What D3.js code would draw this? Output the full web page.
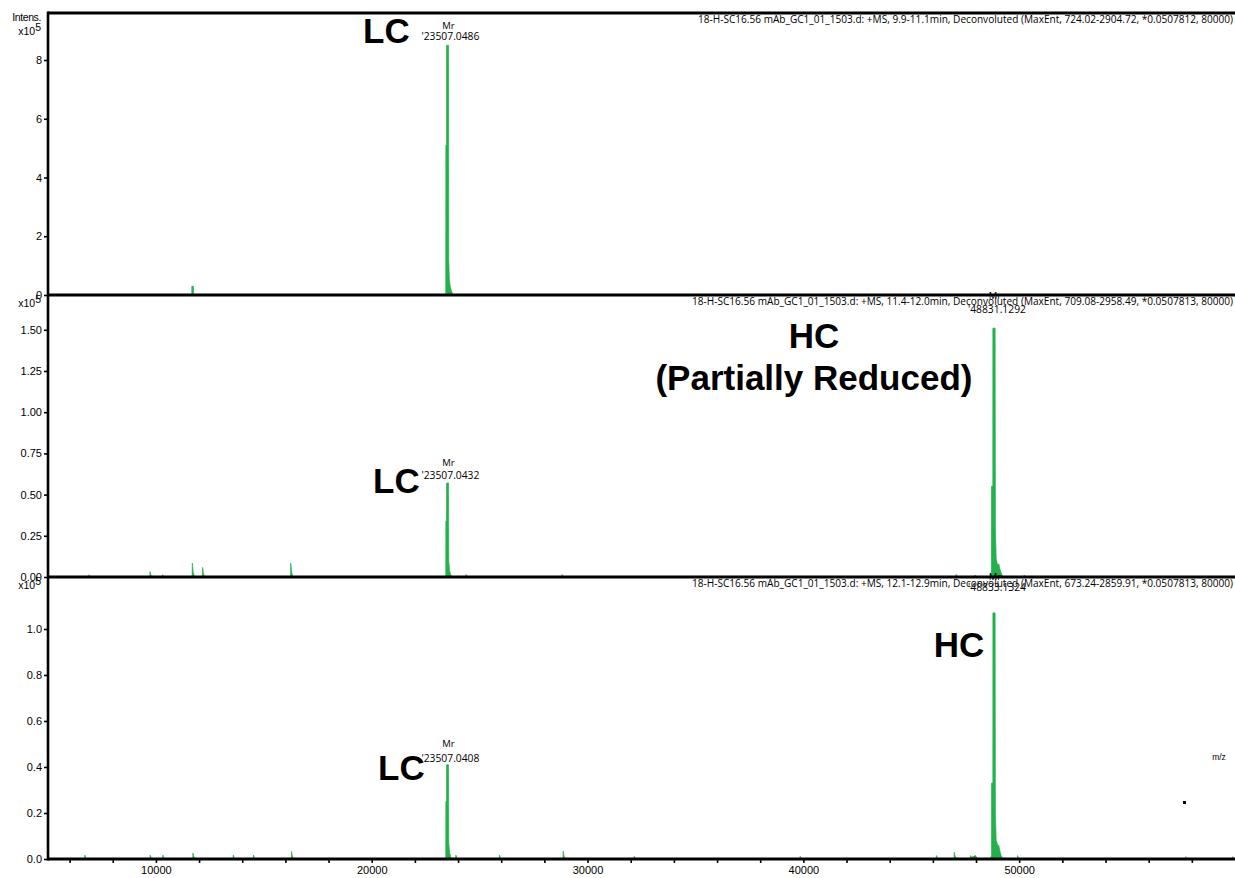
<!DOCTYPE html>
<html>
<head>
<meta charset="utf-8">
<script src="https://cdn.jsdelivr.net/npm/d3@7"></script>
<style>
  html, body { margin: 0; padding: 0; background: #fff; }
  svg { display: block; }
</style>
</head>
<body>
<svg id="chart" width="1235" height="878"></svg>
<script>
// ---- deconvoluted mass spectra, three retention windows ----
const massDomain = [5000, 60000];
const massTicks = [10000, 20000, 30000, 40000, 50000];
const massMinorTicks = d3.range(6000, 60000, 2000);

const headers = [
  "18-H-SC16.56 mAb_GC1_01_1503.d: +MS, 9.9-11.1min, Deconvoluted (MaxEnt, 724.02-2904.72, *0.0507812, 80000)",
  "18-H-SC16.56 mAb_GC1_01_1503.d: +MS, 11.4-12.0min, Deconvoluted (MaxEnt, 709.08-2958.49, *0.0507813, 80000)",
  "18-H-SC16.56 mAb_GC1_01_1503.d: +MS, 12.1-12.9min, Deconvoluted (MaxEnt, 673.24-2859.91, *0.0507813, 80000)"
];

// intensity axes (x10^5)
const yMax = [9.6, 1.711, 1.226];
const yTicks1 = [0, 2, 4, 6, 8];
const yTicks2 = [0, 0.25, 0.5, 0.75, 1.0, 1.25, 1.5];
const yTicks3 = [0, 0.2, 0.4, 0.6, 0.8, 1.0];
const yMinor1 = [1, 3, 5, 7, 9];
const yMinor2 = d3.range(0.05, 1.7, 0.05);
const yMinor3 = [0.1, 0.3, 0.5, 0.7, 0.9, 1.1];
const yFormats = [d3.format("d"), d3.format(".2f"), d3.format(".1f")];

// spectrum profiles: [mass (Da), intensity (x10^5)]
const spectrum1 = [
  [11600, 0], [11660, 0], [11664, 0.3], [11738, 0.3], [11742, 0],
  [23400, 0], [23432, 0], [23434, 5.1], [23466, 5.1], [23468, 8.5], [23560, 8.5],
  [23570, 1.2], [23595, 0.55], [23635, 0.3], [23685, 0.15], [23745, 0.05], [23830, 0]
];

const spectrum2 = [
  [6890, 0], [6900, 0.014], [6940, 0.006], [6990, 0],
  [9717, 0], [9727, 0.033], [9767, 0.012], [9817, 0],
  [10296, 0], [10306, 0.014], [10346, 0.006], [10396, 0],
  [11677, 0], [11687, 0.084], [11727, 0.03], [11790, 0],
  [12154, 0], [12164, 0.058], [12204, 0.02], [12270, 0],
  [16237, 0], [16247, 0.084], [16287, 0.03], [16350, 0],
  [23400, 0], [23432, 0], [23434, 0.34], [23466, 0.34], [23468, 0.57], [23560, 0.57],
  [23570, 0.1], [23605, 0.04], [23655, 0.015], [23725, 0],
  [24360, 0], [24370, 0.016], [24410, 0.006], [24460, 0],
  [28808, 0], [28818, 0.016], [28858, 0.006], [28908, 0],
  [47066, 0], [47076, 0.016], [47116, 0.008], [47170, 0],
  [47946, 0], [47956, 0.012], [47996, 0.006], [48050, 0],
  [48600, 0], [48690, 0.01], [48712, 0.02], [48715, 0.55], [48778, 0.55], [48780, 1.51], [48885, 1.51],
  [48898, 0.3], [48935, 0.11], [48975, 0.085], [49015, 0.07], [49055, 0.08], [49105, 0.05],
  [49165, 0.025], [49245, 0],
  [50217, 0], [50227, 0.012], [50267, 0.006], [50320, 0]
];

const spectrum3 = [
  [6696, 0], [6706, 0.017], [6746, 0.006], [6800, 0],
  [9724, 0], [9734, 0.017], [9774, 0.006], [9830, 0],
  [10311, 0], [10321, 0.017], [10361, 0.006], [10420, 0],
  [11706, 0], [11716, 0.026], [11756, 0.01], [11820, 0],
  [13577, 0], [13587, 0.017], [13627, 0.006], [13690, 0],
  [14513, 0], [14523, 0.017], [14563, 0.006], [14620, 0],
  [16274, 0], [16284, 0.033], [16324, 0.012], [16390, 0],
  [23400, 0], [23432, 0], [23434, 0.25], [23466, 0.25], [23468, 0.41], [23560, 0.41],
  [23570, 0.07], [23605, 0.03], [23655, 0.01], [23725, 0],
  [23889, 0], [23899, 0.017], [23939, 0.006], [23990, 0],
  [25907, 0], [25917, 0.017], [25957, 0.006], [26010, 0],
  [28862, 0], [28872, 0.034], [28912, 0.012], [28980, 0],
  [32152, 0], [32162, 0.012], [32202, 0.005], [32250, 0],
  [39840, 0], [39850, 0.012], [39890, 0.005], [39940, 0],
  [46155, 0], [46165, 0.015], [46205, 0.006], [46260, 0],
  [46982, 0], [46992, 0.03], [47032, 0.012], [47100, 0],
  [47734, 0], [47744, 0.015], [47790, 0.008], [47978, 0.015], [48030, 0.006], [48080, 0],
  [48600, 0], [48700, 0.01], [48718, 0.02], [48720, 0.33], [48780, 0.33], [48782, 1.07], [48885, 1.07],
  [48898, 0.2], [48935, 0.08], [48975, 0.07], [49015, 0.055], [49055, 0.06], [49105, 0.035],
  [49165, 0.015], [49245, 0],
  [49915, 0], [49925, 0.015], [49965, 0.006], [50020, 0],
  [57716, 0], [57726, 0.01], [57766, 0.004], [57810, 0],
  [59877, 0], [59887, 0.01], [59927, 0.004], [59970, 0]
];

// annotated peaks: [panel, mass, intensity, label]
const peakMasses = [
  [0, 23507, 8.5, "'23507.0486"],
  [1, 23507, 0.57, "'23507.0432"],
  [1, 48831, 1.51, "'48831.1292"],
  [2, 23507, 0.41, "'23507.0408"],
  [2, 48833, 1.07, "'48833.1324"]
];

const chainLabels = [
  [0, 23507, 8.5, "LC"],
  [1, 23507, 0.57, "LC"],
  [1, 48831, 1.51, "HC"],
  [2, 23507, 0.41, "LC"],
  [2, 48833, 1.07, "HC"]
];

// ---- layout ----
const left = 48, right = 1235;
const panelTops = [13, 295, 577];
const panelBottoms = [295, 577, 859];
const green = "#22b14c";

const svg = d3.select("#chart");
const x = d3.scaleLinear().domain(massDomain).range([left, right]);
const yScales = yMax.map((m, i) => d3.scaleLinear().domain([0, m]).range([panelBottoms[i], panelTops[i]]));
const spectra = [spectrum1, spectrum2, spectrum3];
const yTicks = [yTicks1, yTicks2, yTicks3];
const yMinor = [yMinor1, yMinor2, yMinor3];

spectra.forEach((data, i) => {
  const y = yScales[i];
  const area = d3.area()
    .x(d => x(d[0]))
    .y0(y(0))
    .y1(d => y(d[1]));
  svg.append("path")
    .datum(data)
    .attr("d", area)
    .attr("fill", green)
    .attr("stroke", green)
    .attr("stroke-width", 0.7);
});

const axisFont = "'Liberation Sans', Arial, sans-serif";
const smallFont = "'Open Sans', 'Noto Sans', sans-serif";

// panel separator / baseline lines
panelBottoms.concat([panelTops[0]]).forEach(yy => {
  svg.append("line")
    .attr("x1", left).attr("x2", right)
    .attr("y1", yy).attr("y2", yy)
    .attr("stroke", "#000").attr("stroke-width", 3);
});

// y axes
yScales.forEach((y, i) => {
  const g = svg.append("g").attr("transform", `translate(${left},0)`);
  g.call(d3.axisLeft(y).tickValues(yMinor[i].filter(v => v < yMax[i])).tickSize(3).tickFormat(""));
  g.call(d3.axisLeft(y).tickValues(yTicks[i]).tickSize(4).tickPadding(2).tickFormat(yFormats[i]));
  g.select(".domain").remove();
  g.selectAll(".tick line").attr("stroke", "#000").attr("stroke-width", 1.6);
  g.selectAll(".tick text")
    .attr("font-family", axisFont).attr("font-size", 11).attr("fill", "#000");
});
svg.append("line")
  .attr("x1", left).attr("x2", left)
  .attr("y1", panelTops[0] - 1.5).attr("y2", panelBottoms[2] + 1.5)
  .attr("stroke", "#000").attr("stroke-width", 2.6);

// x axis (bottom panel only)
const gx = svg.append("g").attr("transform", `translate(0,${panelBottoms[2]})`);
gx.call(d3.axisBottom(x).tickValues(massMinorTicks).tickSize(4).tickPadding(3)
  .tickFormat(d => massTicks.includes(d) ? d : ""));
gx.select(".domain").remove();
gx.selectAll(".tick line").attr("stroke", "#000").attr("stroke-width", 1.6).attr("y1", 1);
gx.selectAll(".tick text").attr("font-family", axisFont).attr("font-size", 11).attr("fill", "#000");

// intensity unit labels
svg.append("text").attr("x", 41).attr("y", 21).attr("text-anchor", "end")
  .attr("font-family", axisFont).attr("font-size", 10.5).attr("letter-spacing", -0.4).text("Intens.");
const unitY = [35, 307, 589];
unitY.forEach(yy => {
  const t = svg.append("text").attr("x", 41).attr("y", yy).attr("text-anchor", "end")
    .attr("font-family", axisFont).attr("font-size", 10.5);
  t.append("tspan").text("x10");
  t.append("tspan").attr("dy", -4).attr("font-size", 10.5).text("5");
});

// run headers
const headerY = [23, 305, 587];
headers.forEach((h, i) => {
  svg.append("text")
    .attr("x", 1233).attr("y", headerY[i])
    .attr("text-anchor", "end")
    .attr("font-family", smallFont).attr("font-size", 10)
    .attr("textLength", i === 0 ? 535 : 541).attr("lengthAdjust", "spacingAndGlyphs")
    .text(h);
});

// Mr annotations
const mrOffsets = [[16, 5], [17, 4], [29, 15], [18, 3], [33, 22]];
peakMasses.forEach((p, k) => {
  const [panel, mass, inten, label] = p;
  const px = x(mass), py = yScales[panel](inten);
  svg.append("text").attr("x", px + 1).attr("y", py - mrOffsets[k][0])
    .attr("text-anchor", "middle").attr("font-family", smallFont).attr("font-size", 9.5)
    .text("Mr");
  svg.append("text").attr("x", px + 3).attr("y", py - mrOffsets[k][1])
    .attr("text-anchor", "middle").attr("font-family", smallFont).attr("font-size", 10.5)
    .attr("textLength", 58).attr("lengthAdjust", "spacingAndGlyphs")
    .text(label);
});

// chain labels
const chainOffsets = [[-61, -2], [-51, 10], [-180, 20], [-46, 15], [-35, 44]];
chainLabels.forEach((c, k) => {
  const [panel, mass, inten, label] = c;
  const px = x(mass) + chainOffsets[k][0], py = yScales[panel](inten) + chainOffsets[k][1];
  svg.append("text").attr("x", px).attr("y", py)
    .attr("text-anchor", "middle").attr("font-family", axisFont)
    .attr("font-weight", "bold").attr("font-size", 35).text(label);
});
const hcPanel2 = chainLabels[2];
svg.append("text")
  .attr("x", x(hcPanel2[1]) - 180).attr("y", yScales[1](hcPanel2[2]) + 62)
  .attr("text-anchor", "middle").attr("font-family", axisFont)
  .attr("font-weight", "bold").attr("font-size", 35).text("(Partially Reduced)");

// axis title
svg.append("text").attr("x", 1219).attr("y", 760).attr("text-anchor", "middle")
  .attr("font-family", axisFont).attr("font-size", 8.5).text("m/z");
svg.append("rect").attr("x", 1183).attr("y", 801).attr("width", 3).attr("height", 3).attr("fill", "#000");
</script>
</body>
</html>
